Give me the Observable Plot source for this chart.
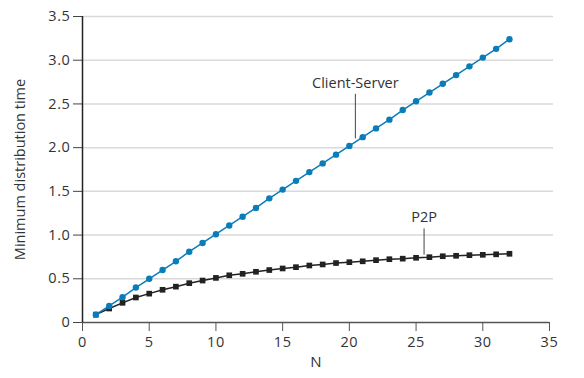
<!DOCTYPE html>
<html><head><meta charset="utf-8">
<script src="https://cdn.jsdelivr.net/npm/d3@7"></script>
<script src="https://cdn.jsdelivr.net/npm/@observablehq/plot@0.6"></script>
<style>body{margin:0;background:#fff;} svg{font-family:"Open Sans",sans-serif;}
g[aria-label="y-axis tick label"] text, g[aria-label="x-axis tick label"] text {letter-spacing:0.6px;}
</style>
</head><body><div id="chart"></div>
<script>
const N = Array.from({length: 32}, (_, i) => i + 1);
const clientServer = [0.09,0.19,0.29,0.40,0.50,0.60,0.70,0.81,0.91,1.01,1.11,1.21,1.31,1.42,1.52,1.62,1.72,1.82,1.92,2.02,2.12,2.22,2.32,2.43,2.53,2.63,2.73,2.83,2.93,3.03,3.13,3.24];
const p2p = [0.09,0.16,0.225,0.286,0.33,0.374,0.41,0.45,0.48,0.51,0.54,0.557,0.58,0.60,0.618,0.633,0.652,0.664,0.68,0.69,0.70,0.713,0.724,0.73,0.74,0.747,0.758,0.763,0.77,0.774,0.78,0.786];
const xTicks = [0,5,10,15,20,25,30,35];
const yTicks = [0,0.5,1,1.5,2,2.5,3,3.5];
const labels = [
  {name: "Client-Server", x: 20.45, yText: 2.74, y1: 2.1, y2: 2.61},
  {name: "P2P", x: 25.6, yText: 1.2, y1: 0.77, y2: 1.07}
];
const csData = N.map((n, i) => ({n, v: clientServer[i]}));
const p2pData = N.map((n, i) => ({n, v: p2p[i]}));
const blue = "#0a7db9", black = "#222";
const chart = Plot.plot({
  width: 584, height: 378,
  marginLeft: 82, marginRight: 35, marginTop: 16, marginBottom: 56,
  style: {fontFamily: "'Open Sans', sans-serif", fontSize: "14px", color: "#333"},
  x: {domain: [0, 35]},
  y: {domain: [0, 3.5]},
  marks: [
    Plot.gridY(yTicks.slice(1), {stroke: "#d9d9d9", strokeOpacity: 1, strokeWidth: 1.5, x2: 35.3}),
    Plot.axisY(yTicks, {tickSize: 9, tickPadding: 3, tickFormat: d => d.toFixed(d === 0 ? 0 : 1), label: null, fontSize: 14.5, stroke: "#444", fill: "#333"}),
    Plot.axisX(xTicks, {tickSize: 9, tickPadding: 5, label: null, fontSize: 14.5, stroke: "#555", fill: "#333"}),
    Plot.ruleY([0], {stroke: "#555", strokeWidth: 1.5}),
    Plot.ruleX([0], {stroke: "#222", strokeWidth: 1.5}),
    Plot.text(["N"], {frameAnchor: "bottom", dy: 44, fontSize: 15, fill: "#333"}),
    Plot.text(["Minimum distribution time"], {frameAnchor: "left", textAnchor: "middle", rotate: -90, dx: -62, fontSize: 14.5, fill: "#333"}),
    Plot.line(p2pData, {x: "n", y: "v", stroke: black, strokeWidth: 1.5}),
    Plot.dot(p2pData, {x: "n", y: "v", symbol: "square", r: 3.2, fill: black}),
    Plot.line(csData, {x: "n", y: "v", stroke: blue, strokeWidth: 1.5}),
    Plot.dot(csData, {x: "n", y: "v", r: 3.2, fill: blue}),
    Plot.ruleX(labels, {x: "x", y1: "y1", y2: "y2", stroke: "#444", strokeWidth: 1}),
    Plot.text(labels, {x: "x", y: "yText", text: "name", fontSize: 14.5, fill: "#333"})
  ]
});
document.getElementById("chart").appendChild(chart);
</script></body></html>
